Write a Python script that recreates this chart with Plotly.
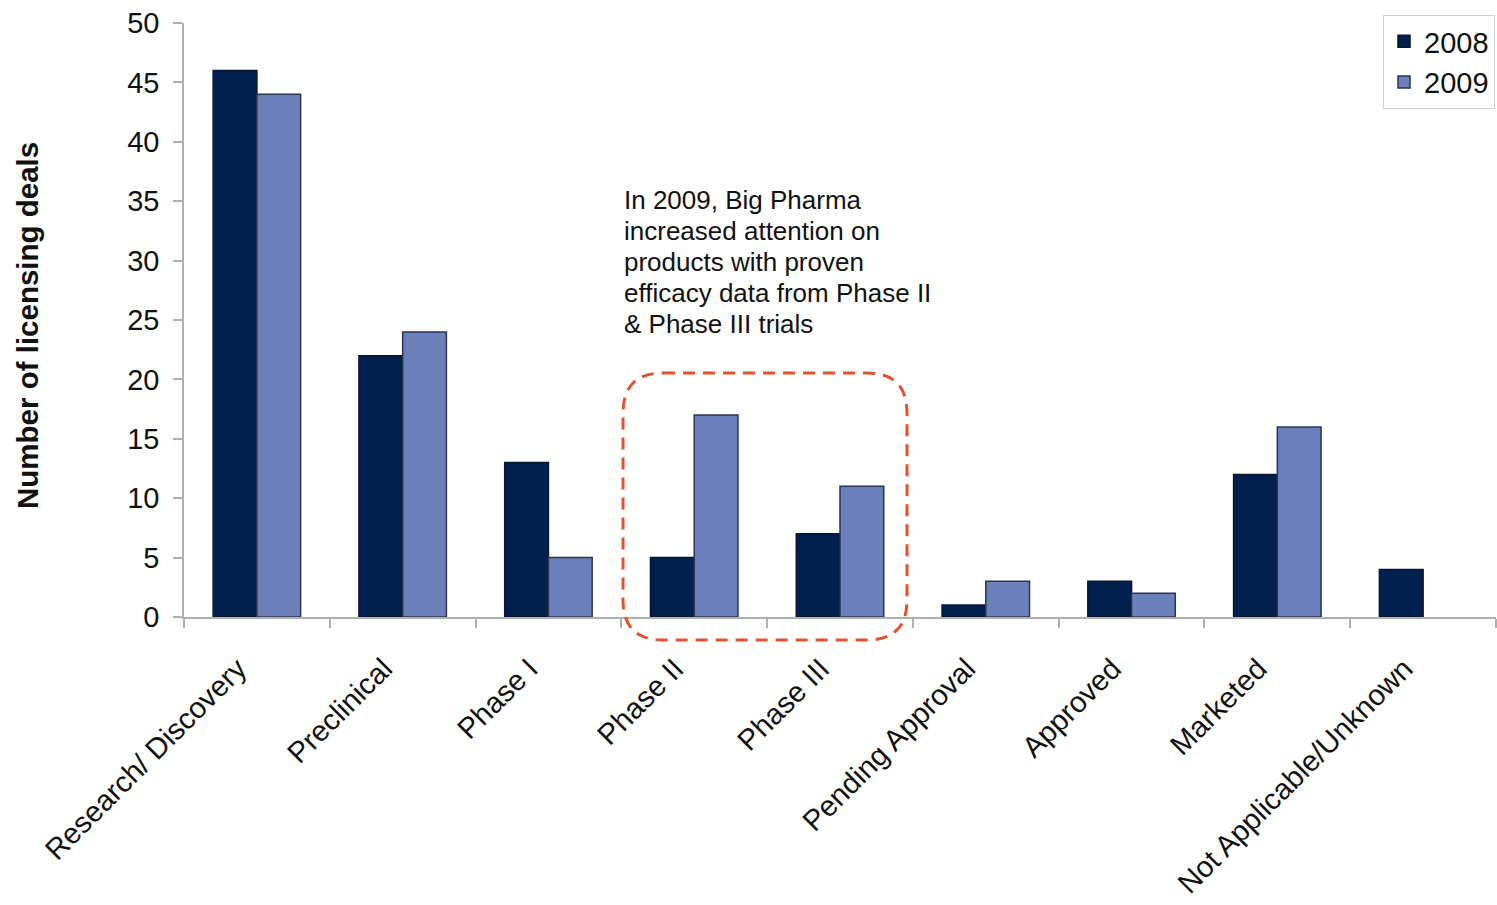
import plotly.graph_objects as go

categories = ["Research/ Discovery", "Preclinical", "Phase I", "Phase II", "Phase III",
              "Pending Approval", "Approved", "Marketed", "Not Applicable/Unknown"]
deals_2008 = [46, 22, 13, 5, 7, 1, 3, 12, 4]
deals_2009 = [44, 24, 5, 17, 11, 3, 2, 16, None]
y_ticks = [0, 5, 10, 15, 20, 25, 30, 35, 40, 45, 50]
note_lines = ["In 2009, Big Pharma", "increased attention on", "products with proven",
              "efficacy data from Phase II", "& Phase III trials"]

FONT = "Liberation Sans, Arial, sans-serif"
TXT = "#111111"

fig = go.Figure()
fig.add_trace(go.Bar(x=categories, y=deals_2008, name="2008",
                     marker=dict(color="#012050", line=dict(color="#0d1530", width=1.5))))
fig.add_trace(go.Bar(x=categories, y=deals_2009, name="2009",
                     marker=dict(color="#6b7fbb", line=dict(color="#2b3550", width=1.5))))

# plot area: x 184..1496 px, y 23..617 px
W, H = 1497, 905
L, R, T, B = 184, 1, 23, 288
pw, ph = W - L - R, H - T - B

def px(x):
    return (x - L) / pw

def py(y):
    return (H - B - y) / ph

# rounded dashed rectangle
x0, x1, y0, y1 = px(623), px(907), py(640), py(373)
rx, ry = 40 / pw, 40 / ph
path = (f"M{x0+rx},{y1} L{x1-rx},{y1} Q{x1},{y1} {x1},{y1-ry} "
        f"L{x1},{y0+ry} Q{x1},{y0} {x1-rx},{y0} L{x0+rx},{y0} "
        f"Q{x0},{y0} {x0},{y0+ry} L{x0},{y1-ry} Q{x0},{y1} {x0+rx},{y1} Z")

annotations = [
    dict(text="<b>Number of licensing deals</b>", xref="paper", yref="paper",
         x=px(27), y=py(326), xanchor="center", yanchor="middle",
         textangle=-90, showarrow=False,
         font=dict(size=29.5, family=FONT, color=TXT)),
]
for i, line in enumerate(note_lines):
    annotations.append(dict(text=line, xref="paper", yref="paper",
                            x=px(622), y=py(200 + 31 * i), xanchor="left",
                            yanchor="middle", align="left", showarrow=False,
                            font=dict(size=26, family=FONT, color=TXT)))

fig.update_layout(
    width=W, height=H,
    margin=dict(l=L, r=R, t=T, b=B, autoexpand=False),
    paper_bgcolor="white", plot_bgcolor="white",
    font=dict(family=FONT, color=TXT),
    barmode="group", bargap=0.4, bargroupgap=0,
    showlegend=True,
    legend=dict(x=px(1383), y=py(15), xanchor="left", yanchor="top",
                bordercolor="#d0d0d0", borderwidth=1, bgcolor="white",
                font=dict(size=29, family=FONT, color=TXT),
                itemwidth=30, tracegroupgap=0),
    xaxis=dict(range=[-0.5, 8.5], tickangle=-45, tickson="boundaries",
               ticks="outside", ticklen=9, tickcolor="#b0b0b0", tickwidth=1.5,
               showline=True, linecolor="#b0b0b0", linewidth=1.5,
               showgrid=False, automargin=False,
               ticklabelstandoff=21, ticklabelshift=-19,
               tickfont=dict(size=29.3, family=FONT, color=TXT)),
    yaxis=dict(range=[0, 50], tickvals=y_ticks, ticks="outside", ticklen=9,
               tickcolor="#b0b0b0", tickwidth=1.5,
               showline=True, linecolor="#b0b0b0", linewidth=1.5,
               showgrid=False, zeroline=False, automargin=False,
               ticklabelstandoff=8,
               tickfont=dict(size=29, family=FONT, color=TXT)),
    shapes=[dict(type="path", xref="paper", yref="paper", path=path,
                 line=dict(color="#e2532b", width=3, dash="12px,8px"))],
    annotations=annotations,
)

fig.write_html("out.html")
